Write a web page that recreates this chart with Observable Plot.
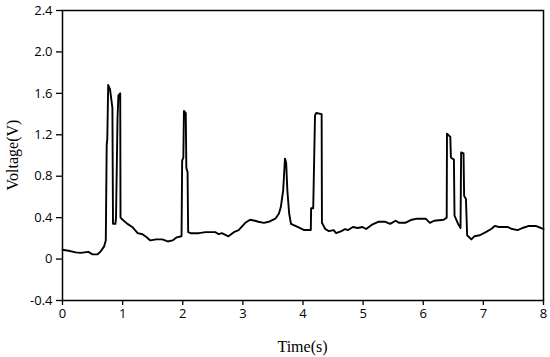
<!DOCTYPE html>
<html>
<head>
<meta charset="utf-8">
<script src="https://cdn.jsdelivr.net/npm/d3@7"></script>
<script src="https://cdn.jsdelivr.net/npm/@observablehq/plot@0.6"></script>
<style>
  html, body { margin: 0; padding: 0; background: #fff; }
  #chart svg { display: block; }
</style>
</head>
<body>
<div id="chart"></div>
<script>
const time = [
  0.00, 0.10, 0.22, 0.30, 0.43, 0.50, 0.58, 0.63, 0.69, 0.72,
  0.735, 0.745, 0.76, 0.79, 0.83, 0.84, 0.88, 0.89, 0.91, 0.915,
  0.93, 0.96, 0.965, 1.00, 1.08, 1.16, 1.25, 1.33, 1.40, 1.46,
  1.56, 1.66, 1.75, 1.83, 1.90, 1.98, 1.99, 2.01, 2.02, 2.05,
  2.06, 2.08, 2.09, 2.13, 2.27, 2.38, 2.54, 2.60, 2.65, 2.76,
  2.85, 2.93, 3.04, 3.12, 3.20, 3.26, 3.35, 3.43, 3.54, 3.60,
  3.63, 3.67, 3.70, 3.72, 3.74, 3.77, 3.80, 3.91, 4.02, 4.13,
  4.135, 4.17, 4.20, 4.22, 4.31, 4.315, 4.37, 4.43, 4.51, 4.55,
  4.64, 4.70, 4.75, 4.83, 4.91, 4.99, 5.05, 5.14, 5.25, 5.37,
  5.45, 5.54, 5.60, 5.70, 5.81, 5.90, 6.04, 6.11, 6.18, 6.34,
  6.39, 6.395, 6.45, 6.46, 6.51, 6.52, 6.58, 6.62, 6.63, 6.67,
  6.68, 6.71, 6.73, 6.80, 6.85, 6.94, 7.04, 7.13, 7.19, 7.26,
  7.40, 7.48, 7.57, 7.65, 7.76, 7.87, 7.96, 8.00
];
const voltage = [
  0.09, 0.08, 0.065, 0.06, 0.07, 0.045, 0.045, 0.07, 0.12, 0.18,
  1.10, 1.16, 1.68, 1.64, 1.46, 0.34, 0.34, 0.40, 1.16, 1.36,
  1.58, 1.60, 0.40, 0.38, 0.34, 0.31, 0.25, 0.24, 0.21, 0.18,
  0.19, 0.19, 0.17, 0.18, 0.21, 0.22, 0.95, 0.98, 1.43, 1.41,
  0.88, 0.84, 0.26, 0.25, 0.25, 0.26, 0.26, 0.24, 0.25, 0.22,
  0.26, 0.28, 0.35, 0.38, 0.37, 0.36, 0.35, 0.36, 0.39, 0.44,
  0.50, 0.66, 0.97, 0.93, 0.66, 0.44, 0.34, 0.31, 0.28, 0.28,
  0.49, 0.49, 1.39, 1.41, 1.40, 0.35, 0.29, 0.27, 0.28, 0.25,
  0.27, 0.29, 0.28, 0.31, 0.30, 0.31, 0.29, 0.33, 0.36, 0.36,
  0.34, 0.37, 0.35, 0.35, 0.38, 0.39, 0.39, 0.35, 0.37, 0.38,
  0.40, 1.21, 1.18, 0.98, 0.96, 0.42, 0.34, 0.30, 1.03, 1.02,
  0.61, 0.58, 0.23, 0.19, 0.22, 0.23, 0.26, 0.29, 0.32, 0.31,
  0.31, 0.29, 0.28, 0.30, 0.32, 0.32, 0.30, 0.29
];
const xTicks = [0, 1, 2, 3, 4, 5, 6, 7, 8];
const yTicks = [-0.4, 0, 0.4, 0.8, 1.2, 1.6, 2.0, 2.4];
const xLabel = "Time(s)";
const yLabel = "Voltage(V)";

const data = time.map((t, i) => ({t, v: voltage[i]}));
const yFmt = d => d === 0 ? "0" : d.toFixed(1);

const chart = Plot.plot({
  width: 550,
  height: 357,
  marginLeft: 62,
  marginRight: 7,
  marginTop: 10,
  marginBottom: 57,
  style: {fontFamily: "'Open Sans', sans-serif", fontSize: "13px", color: "#000", background: "#fff"},
  x: {domain: [0, 8]},
  y: {domain: [-0.4, 2.4]},
  marks: [
    Plot.frame({stroke: "#000", strokeWidth: 1.5}),
    Plot.axisX({ticks: xTicks, tickSize: 5, tickPadding: 3, tickFormat: d => String(d), stroke: "#000", strokeWidth: 1.3, fontSize: 13, label: null}),
    Plot.axisY({ticks: yTicks, tickSize: 6, tickPadding: 4, tickFormat: yFmt, stroke: "#000", strokeWidth: 1.3, fontSize: 13, label: null}),
    Plot.lineY(data, {x: "t", y: "v", stroke: "#000", strokeWidth: 1.9, curve: "linear"})
  ]
});

const svg = d3.select(chart);
svg.append("text")
  .attr("x", 302.5).attr("y", 352)
  .attr("text-anchor", "middle")
  .style("font-family", "'Liberation Serif', serif").style("font-size", "16px")
  .attr("fill", "#000")
  .text(xLabel);
svg.append("text")
  .attr("transform", "translate(18,155) rotate(-90)")
  .attr("text-anchor", "middle")
  .style("font-family", "'Liberation Serif', serif").style("font-size", "16px")
  .attr("fill", "#000")
  .text(yLabel);

document.getElementById("chart").appendChild(chart);
</script>
</body>
</html>
